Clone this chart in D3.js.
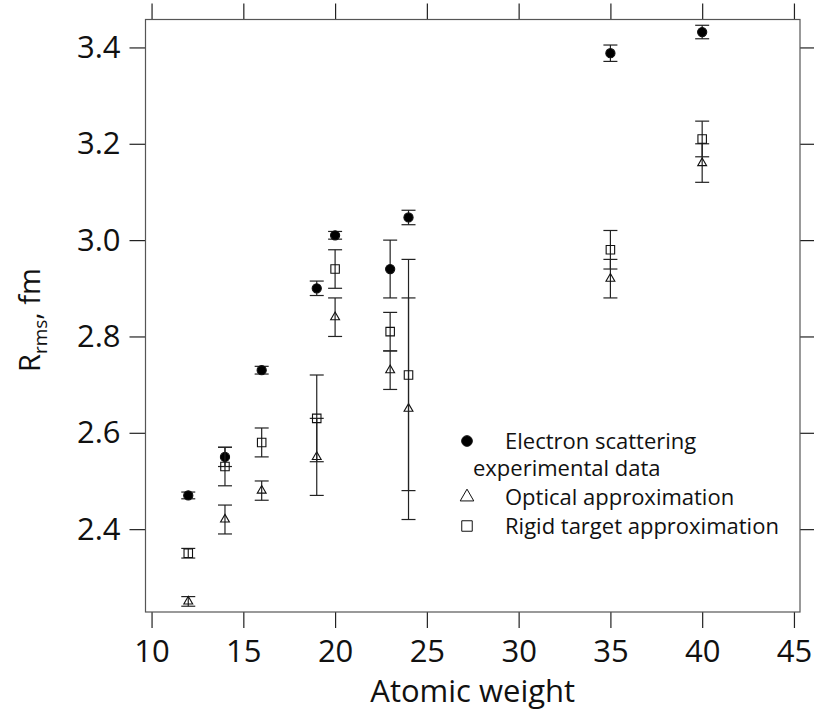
<!DOCTYPE html>
<html>
<head>
<meta charset="utf-8">
<script src="https://cdn.jsdelivr.net/npm/d3@7"></script>
<style>
  body { margin: 0; background: #fff; }
  svg text { font-family: "Open Sans", "Noto Sans", sans-serif; fill: #111; }
</style>
</head>
<body>
<svg id="chart"></svg>
<script>
// Atomic weight of each nucleus
const atomicWeight = [12, 14, 16, 19, 20, 23, 24, 35, 40];

// Electron scattering experimental data
const electronR   = [2.47, 2.55, 2.73, 2.90, 3.01, 2.94, 3.047, 3.388, 3.432];
const electronErr = [0.007, 0.02, 0.008, 0.015, 0.008, 0.06, 0.015, 0.017, 0.014];

// Optical approximation
const opticalR   = [2.25, 2.42, 2.48, 2.55, 2.84, 2.73, 2.65, 2.92, 3.16];
const opticalErr = [0.01, 0.03, 0.02, 0.08, 0.04, 0.04, 0.23, 0.04, 0.04];

// Rigid target approximation
const rigidR   = [2.35, 2.53, 2.58, 2.63, 2.94, 2.81, 2.72, 2.98, 3.21];
const rigidErr = [0.01, 0.04, 0.03, 0.09, 0.04, 0.04, 0.24, 0.04, 0.037];

const xTicks = [10, 15, 20, 25, 30, 35, 40, 45];
const yTicks = [2.4, 2.6, 2.8, 3.0, 3.2, 3.4];

const legendLabels = [
    ["Electron scattering", "experimental data"],
    ["Optical approximation"],
    ["Rigid target approximation"]
];

const config = {
    width: 814, height: 719,
    margin: { top: 19.5, left: 145.5, right: 14, bottom: 107 }
};

const svg = d3.select('#chart')
    .attr('width', config.width)
    .attr('height', config.height);

const w = config.width - config.margin.left - config.margin.right;
const h = config.height - config.margin.top - config.margin.bottom;

const chart = svg.append('g')
    .attr('transform', `translate(${config.margin.left},${config.margin.top})`);

const xScale = d3.scaleLinear().domain([9.67, 45.33]).range([0, w]);
const yScale = d3.scaleLinear().domain([2.228, 3.458]).range([h, 0]);

// Axes: bottom and left labelled, top and right only ticks
const xAxis = d3.axisBottom(xScale).tickValues(xTicks).tickSize(16).tickPadding(12).tickSizeOuter(0);
const yAxis = d3.axisLeft(yScale).tickValues(yTicks).tickSize(16).tickPadding(9).tickSizeOuter(0)
    .tickFormat(d3.format('.1f'));
const xAxisTop = d3.axisTop(xScale).tickValues(xTicks).tickSize(16).tickFormat('').tickSizeOuter(0);
const yAxisRight = d3.axisRight(yScale).tickValues(yTicks).tickSize(16).tickFormat('').tickSizeOuter(0);

const styleAxis = g => {
    g.select('.domain').remove();
    g.selectAll('.tick line').attr('stroke', '#222').attr('stroke-width', 1.2);
    g.selectAll('.tick text').attr('font-size', 31).attr('fill', '#111');
};

chart.append('g').attr('transform', `translate(0,${h})`).call(xAxis).call(styleAxis);
chart.append('g').call(yAxis).call(styleAxis);
chart.append('g').call(xAxisTop).call(styleAxis);
chart.append('g').attr('transform', `translate(${w},0)`).call(yAxisRight).call(styleAxis);

// Frame
chart.append('rect')
    .attr('width', w).attr('height', h)
    .attr('fill', 'none')
    .attr('stroke', '#555')
    .attr('stroke-width', 1.2);

// Series
const series = [
    { r: electronR, err: electronErr, symbol: d3.symbolCircle, size: 66, fill: '#000' },
    { r: opticalR, err: opticalErr, symbol: d3.symbolTriangle, size: 34, fill: 'none' },
    { r: rigidR, err: rigidErr, symbol: d3.symbolSquare, size: 72, fill: 'none' }
];

const capHalf = 7;

series.forEach(s => {
    const pts = atomicWeight.map((a, i) => ({ a: a, r: s.r[i], e: s.err[i] }));

    const bars = chart.append('g')
        .attr('stroke', '#222')
        .attr('stroke-width', 1.2)
        .selectAll('g')
        .data(pts)
        .join('g');

    bars.append('line')
        .attr('x1', d => xScale(d.a)).attr('x2', d => xScale(d.a))
        .attr('y1', d => yScale(d.r - d.e)).attr('y2', d => yScale(d.r + d.e));
    bars.append('line')
        .attr('x1', d => xScale(d.a) - capHalf).attr('x2', d => xScale(d.a) + capHalf)
        .attr('y1', d => yScale(d.r + d.e)).attr('y2', d => yScale(d.r + d.e));
    bars.append('line')
        .attr('x1', d => xScale(d.a) - capHalf).attr('x2', d => xScale(d.a) + capHalf)
        .attr('y1', d => yScale(d.r - d.e)).attr('y2', d => yScale(d.r - d.e));

    chart.append('g')
        .selectAll('path')
        .data(pts)
        .join('path')
        .attr('transform', d => `translate(${xScale(d.a)},${yScale(d.r)})`)
        .attr('d', d3.symbol().type(s.symbol).size(s.size))
        .attr('fill', s.fill)
        .attr('stroke', '#111')
        .attr('stroke-width', 1.1);
});

// Legend
const legend = svg.append('g').attr('transform', 'translate(467,441)');
const legendRowY = [0, 56, 85];
const legendSizes = [90, 80, 110];

series.forEach((s, i) => {
    legend.append('path')
        .attr('transform', `translate(0,${legendRowY[i]})`)
        .attr('d', d3.symbol().type(s.symbol).size(legendSizes[i]))
        .attr('fill', s.fill)
        .attr('stroke', '#111')
        .attr('stroke-width', 1);
    legendLabels[i].forEach((t, j) => {
        legend.append('text')
            .attr('x', j === 0 ? 38 : 6)
            .attr('y', legendRowY[i] + j * 27)
            .attr('dy', '0.36em')
            .attr('font-size', 22)
            .text(t);
    });
});

// Axis titles
svg.append('text')
    .attr('x', config.margin.left + xScale(27.5))
    .attr('y', 702)
    .attr('text-anchor', 'middle')
    .attr('font-size', 31)
    .text('Atomic weight');

const yTitle = svg.append('text')
    .attr('transform', 'translate(40,320) rotate(-90)')
    .attr('text-anchor', 'middle')
    .attr('font-size', 29);
yTitle.append('tspan').text('R');
yTitle.append('tspan').attr('font-size', 19).attr('dy', 7).text('rms');
yTitle.append('tspan').attr('dy', -7).text(', fm');
</script>
</body>
</html>
